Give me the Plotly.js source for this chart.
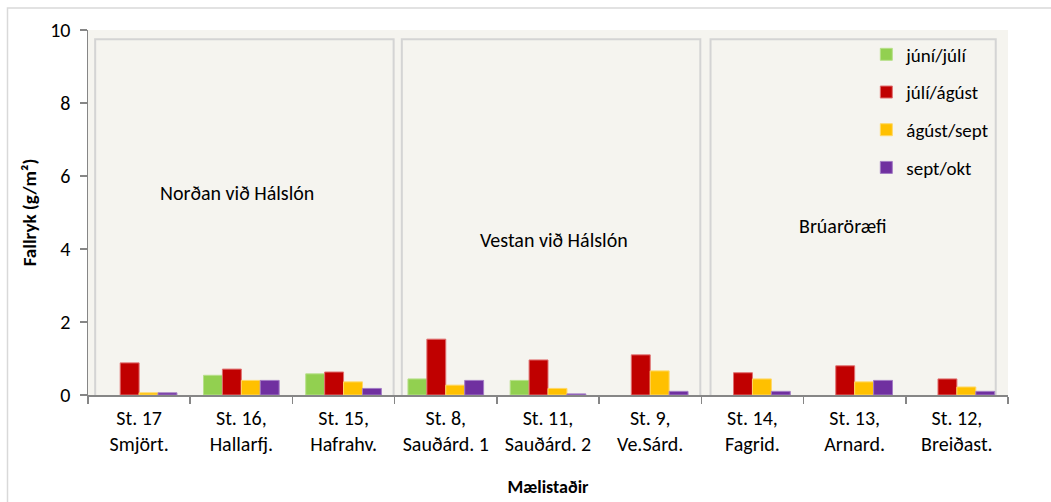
<!DOCTYPE html>
<html>
<head>
<meta charset="utf-8">
<script src="https://cdn.plot.ly/plotly-3.0.1.min.js"></script>
<style>html,body{margin:0;padding:0;background:#fff;}#chart{width:1051px;height:502px;}</style>
</head>
<body>
<div id="chart"></div>
<script>
const categories = ["St. 17<br>Smjört.", "St. 16,<br>Hallarfj.", "St. 15,<br>Hafrahv.", "St. 8,<br>Sauðárd. 1", "St. 11,<br>Sauðárd. 2", "St. 9,<br>Ve.Sárd.", "St. 14,<br>Fagrid.", "St. 13,<br>Arnard.", "St. 12,<br>Breiðast."];
const seriesNames = ["júní/júlí", "júlí/ágúst", "ágúst/sept", "sept/okt"];
const juniJuli   = [null, 0.54, 0.58, 0.44, 0.40, null, null, null, null];
const juliAgust  = [0.88, 0.71, 0.63, 1.53, 0.96, 1.10, 0.61, 0.80, 0.44];
const agustSept  = [0.06, 0.40, 0.36, 0.27, 0.18, 0.66, 0.44, 0.36, 0.22];
const septOkt    = [0.06, 0.40, 0.18, 0.40, 0.03, 0.10, 0.10, 0.40, 0.10];
const regionNames = ["Norðan við Hálslón", "Vestan við Hálslón", "Brúaröræfi"];
const yTicks = [0, 2, 4, 6, 8, 10];

const colors = ["#92d050", "#c00000", "#ffc000", "#7030a0"];
const lineColors = ["#b7e08a", "#e07070", "#ffd866", "#a37cc4"];
const values = [juniJuli, juliAgust, agustSept, septOkt];
const FONT = "Carlito, Lato, 'Open Sans', sans-serif";

const data = values.map((v, i) => ({
  type: "bar",
  name: seriesNames[i],
  x: categories,
  y: v,
  legendgroup: "g" + i,
  marker: {color: colors[i], line: {color: lineColors[i], width: 1}},
  hoverinfo: "y+name"
}));

const panelColor = "#f5f4ef";
const panels = [[-0.43, 2.49], [2.57, 5.49], [5.59, 8.38]];
const shapes = panels.map(p => ({
  type: "rect", xref: "x", yref: "y", layer: "below",
  x0: p[0], x1: p[1], y0: -0.17, y1: 9.75,
  line: {color: "#d4d4d4", width: 2}, fillcolor: panelColor
}));
shapes.unshift({
  type: "rect", xref: "paper", yref: "paper", layer: "below",
  x0: -0.0875, x1: 1.2, y0: -0.3, y1: 1.06,
  line: {color: "#d9d9d9", width: 1.5}, fillcolor: "rgba(0,0,0,0)"
});

const annPos = [[0.96, 5.53], [4.06, 4.25], [6.89, 4.63]];
const annotations = regionNames.map((t, i) => ({
  text: t, x: annPos[i][0], y: annPos[i][1], xref: "x", yref: "y",
  showarrow: false, font: {family: FONT, size: 20, color: "#000"}
}));

const layout = {
  width: 1051, height: 502,
  margin: {l: 88, r: 43, t: 30, b: 107},
  paper_bgcolor: "#ffffff",
  plot_bgcolor: panelColor,
  font: {family: FONT, size: 20, color: "#000"},
  barmode: "group",
  bargap: 0.26,
  bargroupgap: 0,
  showlegend: true,
  legend: {
    x: 0.846, y: 0.985, xanchor: "left", yanchor: "top",
    bgcolor: "rgba(0,0,0,0)", font: {family: FONT, size: 19},
    tracegroupgap: 10, itemwidth: 30
  },
  xaxis: {
    type: "category",
    range: [-0.5, 8.5],
    showline: true, linecolor: "#868686", linewidth: 1.5,
    ticks: "outside", tickson: "boundaries", ticklen: 7, tickcolor: "#868686", tickwidth: 1.5,
    showgrid: false, zeroline: false,
    ticklabelstandoff: 4,
    tickfont: {family: FONT, size: 20},
    title: {text: "<b>Mælistaðir</b>", font: {family: FONT, size: 18}, standoff: 26}
  },
  yaxis: {
    range: [0, 10],
    tickvals: yTicks,
    showline: true, linecolor: "#868686", linewidth: 1.5,
    ticks: "outside", ticklen: 7, tickcolor: "#868686", tickwidth: 1.5,
    showgrid: false, zeroline: false,
    ticklabelstandoff: 5,
    tickfont: {family: FONT, size: 20},
    title: {text: "<b>Fallryk (g/m²)</b>", font: {family: FONT, size: 19}, standoff: 8}
  },
  shapes: shapes,
  annotations: annotations
};

Plotly.newPlot("chart", data, layout, {displayModeBar: false, staticPlot: true});
</script>
</body>
</html>
